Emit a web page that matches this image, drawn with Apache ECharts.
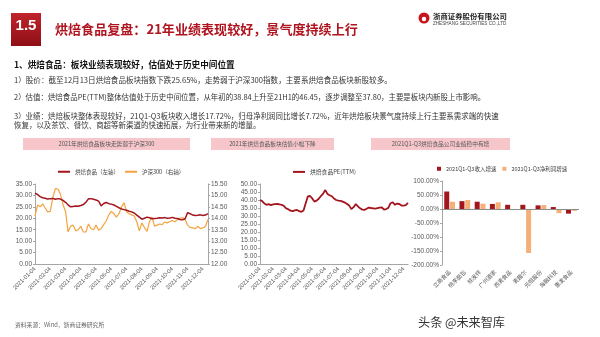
<!DOCTYPE html>
<html><head><meta charset="utf-8">
<script src="https://cdn.jsdelivr.net/npm/echarts/dist/echarts.min.js"></script>
<style>html,body{margin:0;padding:0;background:#fff}#c{width:600px;height:337px}</style>
</head><body><div id="c"></div>
<script>
const dates = [
'2021-01-04','2021-01-09','2021-01-14','2021-01-19','2021-01-24','2021-01-29',
'2021-02-04','2021-02-09','2021-02-14','2021-02-19','2021-02-24','2021-02-28',
'2021-03-04','2021-03-09','2021-03-14','2021-03-19','2021-03-24','2021-03-29',
'2021-04-04','2021-04-09','2021-04-14','2021-04-19','2021-04-24','2021-04-29',
'2021-05-04','2021-05-09','2021-05-14','2021-05-19','2021-05-24','2021-05-29',
'2021-06-04','2021-06-09','2021-06-14','2021-06-19','2021-06-24','2021-06-29',
'2021-07-04','2021-07-09','2021-07-14','2021-07-19','2021-07-24','2021-07-29',
'2021-08-04','2021-08-09','2021-08-14','2021-08-19','2021-08-24','2021-08-29',
'2021-09-04','2021-09-09','2021-09-14','2021-09-19','2021-09-24','2021-09-29',
'2021-10-04','2021-10-09','2021-10-14','2021-10-19','2021-10-24','2021-10-29',
'2021-11-04','2021-11-09','2021-11-14','2021-11-19','2021-11-24','2021-11-29',
'2021-12-04','2021-12-09','2021-12-13'];

const bakingIndex = [
31.0,30.4,29.5,29.0,28.8,28.4,
28.6,28.7,28.3,28.6,28.4,27.8,
27.0,25.9,25.0,25.2,25.4,25.3,
25.6,26.0,27.0,28.5,28.6,28.3,
28.0,27.5,25.4,26.5,26.9,26.4,
26.2,25.8,25.2,24.6,24.1,23.8,
23.5,23.1,22.8,22.3,21.4,20.5,
19.6,20.0,20.5,20.2,19.8,19.9,
20.0,20.2,20.1,20.3,20.0,20.1,
20.4,20.0,19.9,19.5,19.3,19.8,
22.5,22.0,21.4,21.2,21.3,21.5,
21.2,21.4,22.0];

const hs300 = [
14.10,14.58,14.50,14.63,14.45,14.28,
14.30,14.90,15.30,15.28,15.05,14.60,
14.30,13.40,13.65,13.70,13.45,13.50,
13.65,13.40,13.40,13.75,13.55,13.50,
13.70,13.48,13.55,13.72,13.88,14.15,
14.30,14.20,14.05,14.20,14.50,14.68,
14.28,14.20,14.15,14.10,13.85,13.45,
13.80,13.60,13.42,13.85,14.05,13.65,
13.70,13.75,13.72,13.84,13.80,13.86,
13.90,13.85,13.94,14.00,14.03,13.95,
13.70,13.60,13.58,13.55,13.65,13.55,
13.58,13.65,13.95];

const bakingPE = [
40.0,39.3,37.8,37.0,37.4,36.8,
37.2,37.4,37.5,37.2,37.0,36.2,
34.8,34.2,33.3,33.0,33.5,33.8,
33.0,32.6,33.5,38.0,42.3,42.5,
41.0,39.0,39.6,40.8,42.5,44.0,
46.2,43.8,43.0,42.3,41.0,40.0,
39.6,39.5,39.0,38.4,37.5,36.5,
34.3,35.5,37.5,36.0,34.8,34.0,
33.8,34.5,35.3,35.0,34.8,34.6,
34.9,35.2,35.3,34.0,34.3,35.2,
38.0,38.6,37.0,37.8,37.5,36.5,
36.5,36.8,38.2];

const companies = ['立高食品','桃李面包','桂发祥','广州酒家','西麦食品','麦趣尔','元祖股份','海融科技','惠发食品'];
const revenueGrowth = [62.5, 28, 26, 18, 15, 15, 13, 7, -16.5];
const profitGrowth = [26, 32, 19, 24, -1.5, -157, 14, -15, -7];

const FONT = "'Liberation Sans','Noto Sans CJK SC',sans-serif";
const CJK = "'Noto Sans CJK SC',sans-serif";
const RED = '#A3141D';
const ORANGE = '#F3A33F';
const axisGrey = '#A6A6A6';
const lblColor = '#595959';

const mctx = document.createElement('canvas').getContext('2d');
function fit(text, family, weight, target, base) {
  mctx.font = weight + ' ' + base + 'px ' + family;
  const w = mctx.measureText(text).width;
  return +(base * target / w).toFixed(2);
}

const chart = echarts.init(document.getElementById('c'), null, {renderer: 'canvas'});

function yAxisCfg(gridIndex, min, max, interval, fmt, position) {
  return {
    type: 'value', gridIndex, min, max, interval, position: position || 'left',
    splitLine: {show: false},
    axisLine: {show: true, lineStyle: {color: axisGrey, width: 1}},
    axisTick: {show: true, length: 2, lineStyle: {color: axisGrey}},
    axisLabel: {fontSize: 6.5, color: lblColor, margin: 3, fontFamily: FONT, formatter: fmt}
  };
}
function dateAxis(gridIndex) {
  return {
    type: 'category', gridIndex, data: dates, boundaryGap: false,
    axisLine: {show: true, lineStyle: {color: axisGrey}},
    axisTick: {show: false},
    axisLabel: {rotate: 45, fontSize: 5.8, color: lblColor, margin: 4, fontFamily: FONT,
      interval: (i, v) => v.endsWith('-04')}
  };
}

const titleText = '烘焙食品复盘：21年业绩表现较好，景气度持续上行';
const headText = '1、烘焙食品：板块业绩表现较好，估值处于历史中间位置';
const markText = '头条 @未来智库';
const para = [
  '1）股价：截至12月13日烘焙食品板块指数下跌25.65%，走势弱于沪深300指数，主要系烘焙食品板块新股较多。',
  '2）估值：烘焙食品PE(TTM)整体估值处于历史中间位置，从年初的38.84上升至21H1的46.45，逐步调整至37.80，主要是板块内新股上市影响。',
  '3）业绩：烘焙板块整体表现较好，21Q1-Q3板块收入增长17.72%，归母净利润同比增长7.72%，近年烘焙板块景气度持续上行主要系需求端的快速',
  '恢复，以及茶饮、餐饮、商超等新渠道的快速拓展，为行业带来新的增量。'
];
const paraY = [80, 97.5, 116, 125.5];
const paraTarget = [378, 471, 484, null];

const titleSize = fit(titleText, CJK, 'bold', 303, 13);
const headSize = fit(headText, CJK, 'bold', 221, 9);
const markSize = fit(markText, CJK, 'normal', 87, 13);
const paraSizes = paraTarget.map((t, i) => t ? fit(para[i], CJK, 'normal', t, 7.6) : null);
paraSizes[3] = paraSizes[2];

const graphics = [
  {type: 'rect', shape: {x: 11, y: 13, width: 30, height: 33},
   style: {fill: new echarts.graphic.LinearGradient(0, 0, 0, 1, [{offset: 0, color: '#C0232B'}, {offset: 1, color: '#8E0F16'}])}},
  {type: 'text', x: 26, y: 26, style: {text: '1.5', fill: '#fff', font: 'bold 15px ' + FONT, textAlign: 'center', textVerticalAlign: 'middle'}},
  {type: 'text', x: 55, y: 29, style: {text: titleText, fill: '#B0141F', font: 'bold ' + titleSize + 'px ' + CJK, textVerticalAlign: 'middle'}},
  {type: 'circle', shape: {cx: 424, cy: 18, r: 5.5}, style: {fill: '#C8161E'}},
  {type: 'circle', shape: {cx: 424, cy: 19, r: 2.2}, style: {fill: '#fff'}},
  {type: 'text', x: 433, y: 16, style: {text: '浙商证券股份有限公司', fill: '#222', font: 'bold 7.4px ' + CJK, textVerticalAlign: 'middle'}},
  {type: 'text', x: 433, y: 24, style: {text: 'ZHESHANG SECURITIES CO.,LTD', fill: '#444', font: '4.6px ' + FONT, textVerticalAlign: 'middle'}},
  {type: 'text', x: 14, y: 65, style: {text: headText, fill: '#111', font: 'bold ' + headSize + 'px ' + CJK, textVerticalAlign: 'middle'}},
  {type: 'rect', shape: {x: 23, y: 138, width: 167, height: 12}, style: {fill: '#F6C6CB'}},
  {type: 'rect', shape: {x: 211, y: 138, width: 123, height: 12}, style: {fill: '#F6C6CB'}},
  {type: 'rect', shape: {x: 371, y: 138, width: 139, height: 12}, style: {fill: '#F6C6CB'}},
  {type: 'text', x: 106.5, y: 144, style: {text: '2021年烘焙食品板块走势弱于沪深300', fill: '#555', font: '5.7px ' + CJK, textAlign: 'center', textVerticalAlign: 'middle'}},
  {type: 'text', x: 272.5, y: 144, style: {text: '2021年烘焙食品板块估值小幅下降', fill: '#555', font: '5.7px ' + CJK, textAlign: 'center', textVerticalAlign: 'middle'}},
  {type: 'text', x: 440.5, y: 144, style: {text: '2021Q1-Q3烘焙食品公司业绩稳中有增', fill: '#555', font: '5.7px ' + CJK, textAlign: 'center', textVerticalAlign: 'middle'}},
  {type: 'text', x: 15, y: 325, style: {text: '资料来源：Wind，浙商证券研究所', fill: '#666', font: '5.8px ' + CJK, textVerticalAlign: 'middle'}},
  {type: 'text', x: 418, y: 322, style: {text: markText, fill: '#333', font: markSize + 'px ' + CJK, textVerticalAlign: 'middle'}}
];
para.forEach((t, i) => graphics.push({type: 'text', x: 14, y: paraY[i],
  style: {text: t, fill: '#333', font: paraSizes[i] + 'px ' + CJK, textVerticalAlign: 'middle'}}));

const legendText = {fontSize: 5.5, color: '#404040', fontFamily: CJK};

chart.setOption({
  animation: false,
  backgroundColor: '#fff',
  textStyle: {fontFamily: FONT},
  graphic: graphics,
  legend: [
    {data: ['烘焙食品（左轴）', '沪深300（右轴）'], left: 58, top: 169, icon: 'rect', itemWidth: 12, itemHeight: 2, itemGap: 6, textStyle: legendText, padding: 0},
    {data: ['烘焙食品PE(TTM)'], left: 293, top: 169, icon: 'rect', itemWidth: 12, itemHeight: 2, textStyle: Object.assign({}, legendText, {fontSize: 5.8}), padding: 0},
    {data: ['2021Q1-Q3收入增速', '2021Q1-Q3净利润增速'], left: 437, top: 166, icon: 'rect', itemWidth: 4, itemHeight: 4, itemGap: 6, textStyle: legendText, padding: 0}
  ],
  grid: [
    {left: 35, right: 392, top: 184, bottom: 73},
    {left: 260, right: 192, top: 184, bottom: 73},
    {left: 442, right: 21, top: 181, bottom: 72}
  ],
  xAxis: [
    dateAxis(0),
    dateAxis(1),
    {type: 'category', gridIndex: 2, data: companies,
     axisLine: {show: false}, axisTick: {show: false},
     axisLabel: {rotate: 45, fontSize: 5.6, color: lblColor, margin: 6, interval: 0, fontFamily: CJK}}
  ],
  yAxis: [
    yAxisCfg(0, 0, 35, 5, v => v.toFixed(2)),
    yAxisCfg(0, 12, 15.5, 0.5, v => v.toFixed(2), 'right'),
    yAxisCfg(1, 0, 50, 5, v => v.toFixed(2)),
    yAxisCfg(2, -200, 100, 50, v => v.toFixed(2) + '%')
  ],
  series: [
    {name: '沪深300（右轴）', type: 'line', xAxisIndex: 0, yAxisIndex: 1, data: hs300, showSymbol: false, symbol: 'none',
     lineStyle: {color: ORANGE, width: 1.2}, itemStyle: {color: ORANGE}, z: 2},
    {name: '烘焙食品（左轴）', type: 'line', xAxisIndex: 0, yAxisIndex: 0, data: bakingIndex, showSymbol: false, symbol: 'none',
     lineStyle: {color: RED, width: 1.5}, itemStyle: {color: RED}, z: 3},
    {name: '烘焙食品PE(TTM)', type: 'line', xAxisIndex: 1, yAxisIndex: 2, data: bakingPE, showSymbol: false, symbol: 'none',
     lineStyle: {color: RED, width: 1.8}, itemStyle: {color: RED}},
    {name: '2021Q1-Q3收入增速', type: 'bar', xAxisIndex: 2, yAxisIndex: 3, data: revenueGrowth, barWidth: 5, barGap: '15%',
     itemStyle: {color: RED}},
    {name: '2021Q1-Q3净利润增速', type: 'bar', xAxisIndex: 2, yAxisIndex: 3, data: profitGrowth, barWidth: 5, barGap: '15%',
     itemStyle: {color: '#F5B07A'},
     markLine: {silent: true, symbol: 'none', label: {show: false}, data: [{yAxis: 0}],
       lineStyle: {color: '#8C8C8C', width: 1, type: 'solid'}}}
  ]
});
</script>
</body></html>
